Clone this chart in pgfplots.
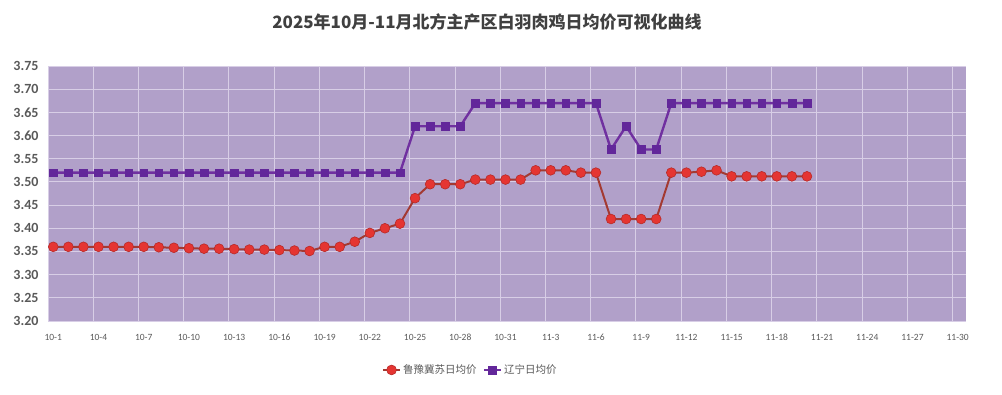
\documentclass[border=0pt]{standalone}
\usepackage{pgfplots}
\pgfplotsset{compat=1.18}
\usepackage{fontspec}
\setmainfont{Carlito}
\newfontfamily\cjk{Noto Sans CJK SC}
\definecolor{bg}{HTML}{B1A0C9}
\definecolor{gridc}{HTML}{D8CEE6}
\definecolor{redm}{HTML}{E53532}
\definecolor{redl}{HTML}{A33A32}
\definecolor{purl}{HTML}{7030A0}
\definecolor{purm}{HTML}{62279A}
\definecolor{txt}{HTML}{595959}
\definecolor{ttl}{HTML}{404040}
\begin{document}
\begin{tikzpicture}[x=1pt,y=1pt]
\path[use as bounding box] (0,0) rectangle (1002,394);
\node[font=\cjk\bfseries\fontsize{17}{19}\selectfont, text=ttl] at (487,372) {2025年10月-11月北方主产区白羽肉鸡日均价可视化曲线};
\begin{axis}[
  at={(48pt,73pt)}, anchor=south west,
  scale only axis, width=918pt, height=255pt,
  xmin=-0.35, xmax=60.55, ymin=3.2, ymax=3.75,
  axis background/.style={fill=bg},
  axis line style={draw=none},
  xtick={0,3,...,60},
  xticklabels={10-1,10-4,10-7,10-10,10-13,10-16,10-19,10-22,10-25,10-28,10-31,11-3,11-6,11-9,11-12,11-15,11-18,11-21,11-24,11-27,11-30},
  extra x ticks={-0.35,2.65,...,59.65},
  extra x tick labels={},
  extra x tick style={grid=major},
  ytick={3.2,3.25,...,3.76},
  ymajorgrids=true,
  major grid style={gridc, line width=0.9pt},
  major tick length=0pt,
  /pgf/number format/assume math mode=true,
  yticklabel={\pgfmathprintnumber[fixed,fixed zerofill,precision=2]{\tick}},
  yticklabel style={font=\bfseries\fontsize{14}{16}\selectfont, text=txt, xshift=-6pt},
  xticklabel style={font=\fontsize{9.5}{11}\selectfont, text=txt, text height=7pt, text depth=1pt, anchor=north, yshift=-9pt},
  legend style={at={(0.46,-0.192)}, anchor=center, draw=none, fill=none,
    font=\cjk\fontsize{10.5}{13}\selectfont, text=txt, /tikz/every even column/.append style={column sep=4pt}},
  legend columns=2,
]
\addplot[redl, line width=2pt, mark=*, mark size=4.9pt, mark options={fill=redm, draw=redm!80!black, line width=0.6pt}] coordinates {
(0,3.36)(1,3.36)(2,3.36)(3,3.36)(4,3.36)(5,3.36)(6,3.36)(7,3.359)(8,3.358)(9,3.357)
(10,3.356)(11,3.356)(12,3.355)(13,3.354)(14,3.354)(15,3.353)(16,3.352)(17,3.351)(18,3.36)(19,3.36)
(20,3.371)(21,3.39)(22,3.40)(23,3.41)(24,3.465)(25,3.495)(26,3.495)(27,3.495)(28,3.505)(29,3.505)
(30,3.505)(31,3.505)(32,3.525)(33,3.525)(34,3.525)(35,3.52)(36,3.52)(37,3.42)(38,3.42)(39,3.42)
(40,3.42)(41,3.52)(42,3.52)(43,3.522)(44,3.525)(45,3.512)(46,3.512)(47,3.512)(48,3.512)(49,3.512)
(50,3.512)};
\addlegendentry{鲁豫冀苏日均价}
\addplot[purl, line width=2.4pt, mark=square*, mark size=3.8pt, mark options={fill=purm, draw=purm, line width=0.4pt}] coordinates {
(0,3.52)(1,3.52)(2,3.52)(3,3.52)(4,3.52)(5,3.52)(6,3.52)(7,3.52)(8,3.52)(9,3.52)
(10,3.52)(11,3.52)(12,3.52)(13,3.52)(14,3.52)(15,3.52)(16,3.52)(17,3.52)(18,3.52)(19,3.52)
(20,3.52)(21,3.52)(22,3.52)(23,3.52)(24,3.62)(25,3.62)(26,3.62)(27,3.62)(28,3.67)(29,3.67)
(30,3.67)(31,3.67)(32,3.67)(33,3.67)(34,3.67)(35,3.67)(36,3.67)(37,3.57)(38,3.62)(39,3.57)
(40,3.57)(41,3.67)(42,3.67)(43,3.67)(44,3.67)(45,3.67)(46,3.67)(47,3.67)(48,3.67)(49,3.67)
(50,3.67)};
\addlegendentry{辽宁日均价}
\end{axis}
\end{tikzpicture}
\end{document}
